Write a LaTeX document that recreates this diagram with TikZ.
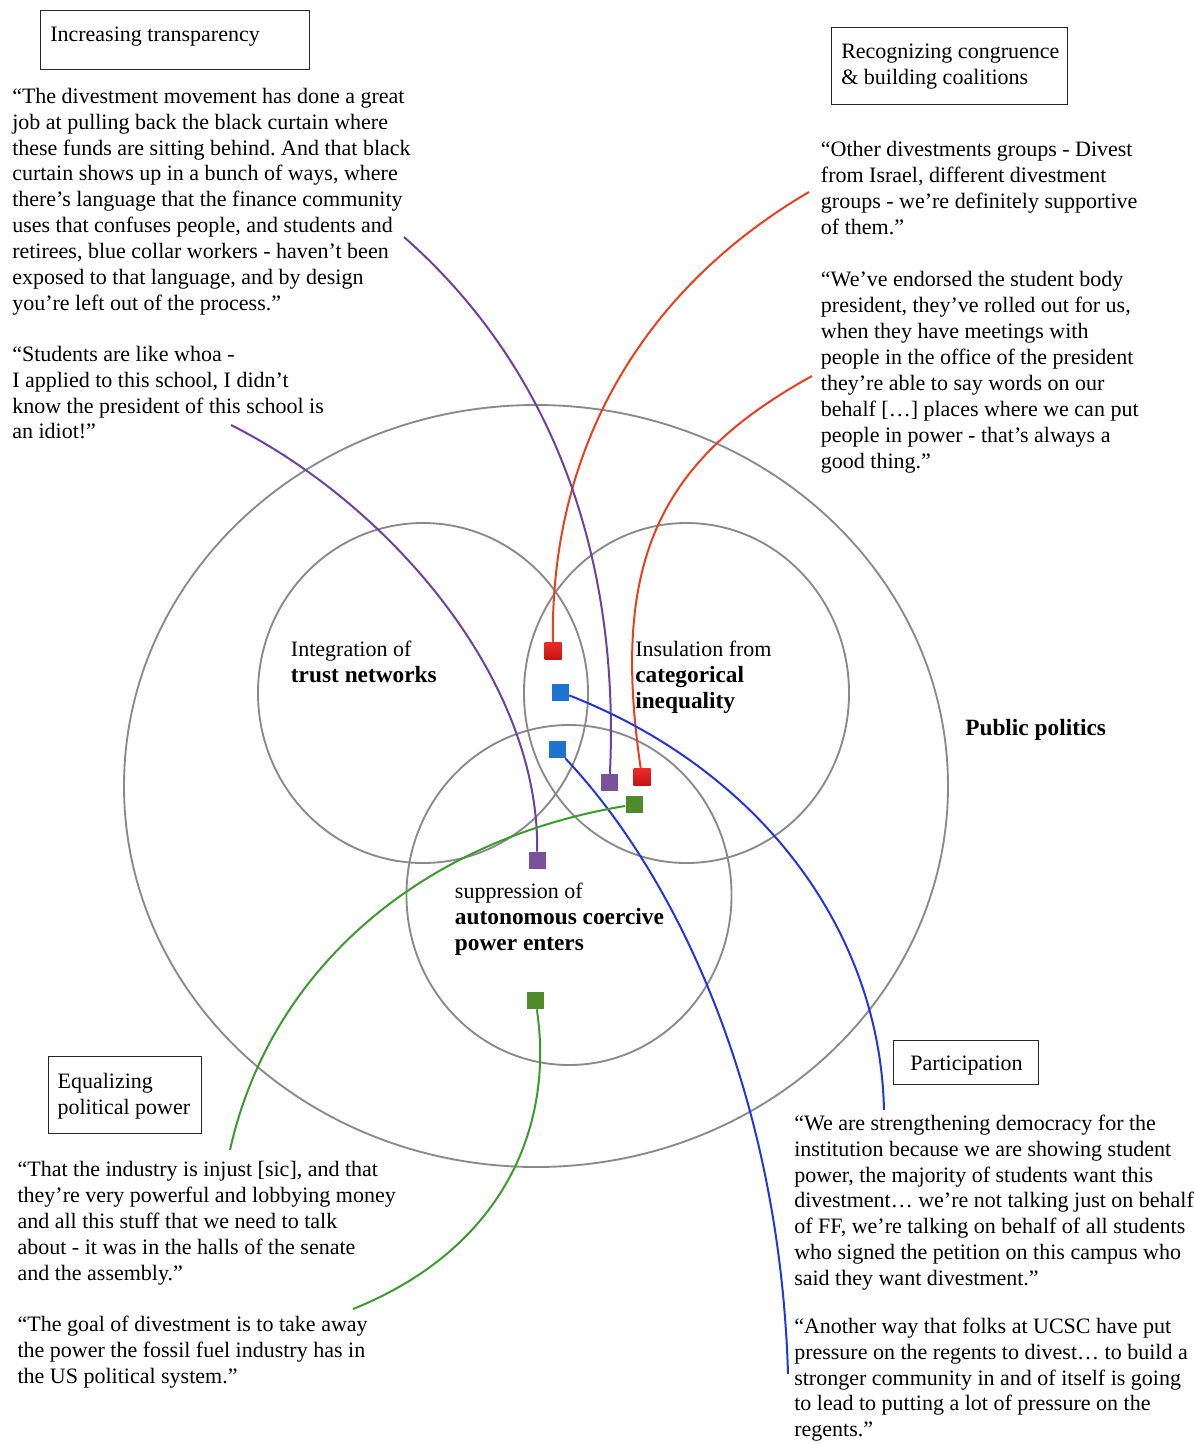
\documentclass[tikz,border=0pt]{standalone}
\usepackage{fontspec}
\setmainfont{Liberation Serif}
\newcommand{\qfont}{\fontsize{16.5}{19.4}\selectfont}
\newcommand{\bfont}{\fontsize{17.5}{19.4}\selectfont\bfseries}
\definecolor{ringgray}{HTML}{8A8A8A}
\definecolor{redline}{HTML}{E8401E}
\definecolor{redtop}{HTML}{EC2A24}
\definecolor{redbot}{HTML}{C41414}
\definecolor{blueline}{HTML}{2236E0}
\definecolor{bluesq}{HTML}{1F74D2}
\definecolor{purpleline}{HTML}{6E40A0}
\definecolor{purplesq}{HTML}{7A529A}
\definecolor{greenline}{HTML}{3C9A30}
\definecolor{greensq}{HTML}{4F8A2B}
\frenchspacing
\begin{document}
\begin{tikzpicture}[x=0.75pt,y=-0.75pt,
  ring/.style={draw=ringgray, line width=1.4pt},
  sq/.style={rectangle, minimum size=12.75pt, inner sep=0pt},
  link/.style={line width=1.5pt},
  % text blocks are placed by the baseline of their first line (which starts with a strut)
  quote/.style={anchor=north west, yshift=13.58pt, align=left, inner sep=0pt, font=\qfont},
  frame/.style={draw=black!85, line width=1.1pt, inner sep=0pt, anchor=north west}]
\useasboundingbox (0,0) rectangle (1194,1443);

% the four spheres
\draw[ring] (536,786) ellipse [x radius=309pt, y radius=285.75pt];
\draw[ring] (423,693) ellipse [x radius=123.75pt, y radius=127.5pt];
\draw[ring] (686.5,693) ellipse [x radius=121.9pt, y radius=127.5pt];
\draw[ring] (569,895) ellipse [x radius=121.9pt, y radius=127.5pt];

% sphere labels
\node[quote] (trustlbl) at (290.7,656) {\strut Integration of\\{\bfont trust networks}};
\node[quote] (insullbl) at (635,656) {\strut Insulation from\\{\bfont categorical}\\{\bfont inequality}};
\node[quote] (supprlbl) at (454.7,898) {\strut suppression of\\{\bfont autonomous coercive}\\{\bfont power enters}};
\node[quote, font=\bfont] (publbl) at (965,735) {\strut Public politics};

% mechanism frames
\node[frame, minimum width=201.75pt, minimum height=44.25pt] (frameA) at (40,9.5) {};
\node[quote] (titleA) at (50,41.5) {\strut Increasing transparency};
\node[frame, minimum width=177pt, minimum height=57.75pt] (frameB) at (831,27) {};
\node[quote] (titleB) at (841,58.3) {\strut Recognizing congruence\\\& building coalitions};
\node[frame, minimum width=114.75pt, minimum height=57.75pt] (frameC) at (48,1056) {};
\node[quote] (titleC) at (57.3,1088) {\strut Equalizing\\political power};
\node[frame, minimum width=108.75pt, minimum height=33pt] (frameD) at (893,1040) {};
\node[quote] (titleD) at (910,1070) {\strut Participation};

% interview quotes
\node[quote] (q1) at (12,103) {\strut “The divestment movement has done a great\\
job at pulling back the black curtain where\\
these funds are sitting behind. And that black\\
curtain shows up in a bunch of ways, where\\
there’s language that the finance community\\
uses that confuses people, and students and\\
retirees, blue collar workers - haven’t been\\
exposed to that language, and by design\\
you’re left out of the process.”};
\node[quote] (q2) at (12,361) {\strut “Students are like whoa -\\
I applied to this school, I didn’t\\
know the president of this school is\\
an idiot!”};
\node[quote] (q3) at (820.7,156.7) {\strut “Other divestments groups - Divest\\
from Israel, different divestment\\
groups - we’re definitely supportive\\
of them.”};
\node[quote] (q4) at (820.7,286.7) {\strut “We’ve endorsed the student body\\
president, they’ve rolled out for us,\\
when they have meetings with\\
people in the office of the president\\
they’re able to say words on our\\
behalf […] places where we can put\\
people in power - that’s always a\\
good thing.”};
\node[quote] (q5) at (17.3,1176.7) {\strut “That the industry is injust [sic], and that\\
they’re very powerful and lobbying money\\
and all this stuff that we need to talk\\
about - it was in the halls of the senate\\
and the assembly.”};
\node[quote] (q6) at (17.3,1331.7) {\strut “The goal of divestment is to take away\\
the power the fossil fuel industry has in\\
the US political system.”};
\node[quote] (q7) at (794,1130) {\strut “We are strengthening democracy for the\\
institution because we are showing student\\
power, the majority of students want this\\
divestment… we’re not talking just on behalf\\
of FF, we’re talking on behalf of all students\\
who signed the petition on this campus who\\
said they want divestment.”};
\node[quote] (q8) at (794,1333) {\strut “Another way that folks at UCSC have put\\
pressure on the regents to divest… to build a\\
stronger community in and of itself is going\\
to lead to putting a lot of pressure on the\\
regents.”};

% markers placed in the spheres
\node[sq, top color=redtop, bottom color=redbot] (r1) at (553,651) {};
\node[sq, fill=bluesq] (b1) at (560.5,692) {};
\node[sq, fill=bluesq] (b2) at (557,749.5) {};
\node[sq, fill=purplesq] (p1) at (609.5,782.5) {};
\node[sq, top color=redtop, bottom color=redbot] (r2) at (642,777) {};
\node[sq, fill=greensq] (g1) at (634,804.5) {};
\node[sq, fill=purplesq] (p2) at (537,860.5) {};
\node[sq, fill=greensq] (g2) at (535.5,1000.5) {};

% free ends of the connectors beside the quotes
\coordinate (p1end) at (404,237);
\coordinate (p2end) at (231,425);
\coordinate (r1end) at (809,192);
\coordinate (r2end) at (812,376);
\coordinate (b1end) at (884,1110);
\coordinate (b2end) at (788,1374);
\coordinate (g1end) at (230,1150);
\coordinate (g2end) at (353,1309);

% connectors
\draw[link, redline] (r1end) .. controls (650,285) and (550,440) .. (r1);
\draw[link, redline] (r2end) .. controls (660,460) and (610,560) .. (r2);
\draw[link, purpleline] (p1end) .. controls (555,370) and (620,560) .. (p1);
\draw[link, purpleline] (p2end) .. controls (390,505) and (540,680) .. (p2);
\draw[link, blueline] (b1) .. controls (760,770) and (880,930) .. (b1end);
\draw[link, blueline] (b2) .. controls (680,880) and (780,1100) .. (b2end);
\draw[link, greenline] (g1) .. controls (420,840) and (270,970) .. (g1end);
\draw[link, greenline] (g2) .. controls (555,1130) and (500,1250) .. (g2end);
\end{tikzpicture}
\end{document}
